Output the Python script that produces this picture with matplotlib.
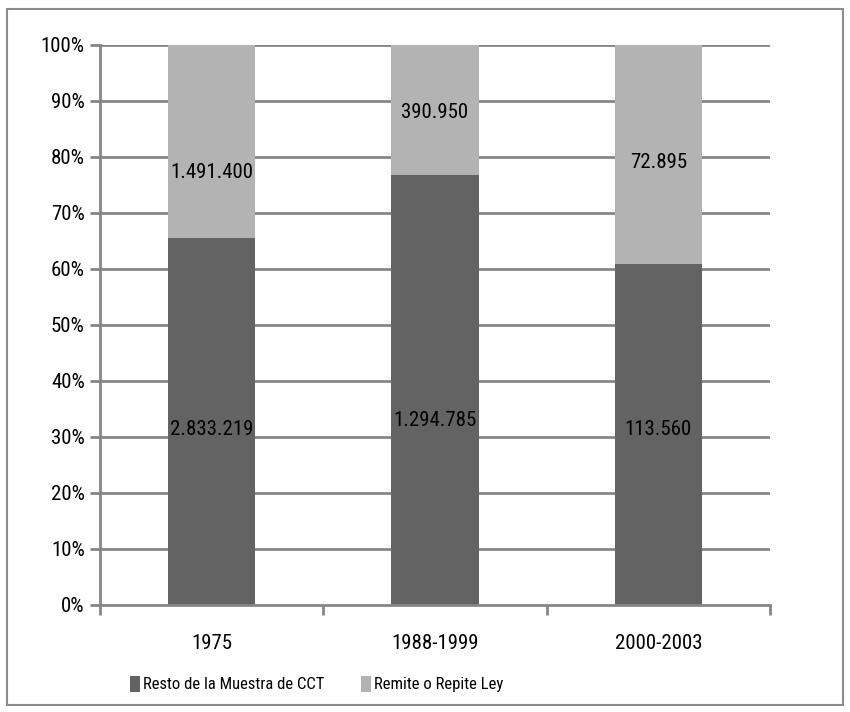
import matplotlib.pyplot as plt
from matplotlib.patches import Rectangle
from matplotlib import font_manager

categories = ['1975', '1988-1999', '2000-2003']
resto = [2833219, 1294785, 113560]
remite = [1491400, 390950, 72895]
series_names = ['Resto de la Muestra de CCT', 'Remite o Repite Ley']

# label heights as placed in the original (percent of axis)
resto_label_y = [31.3, 33.0, 31.3]
remite_label_y = [77.3, 88.0, 79.1]

names = {f.name for f in font_manager.fontManager.ttflist}
cands = ['Liberation Sans Narrow', 'Roboto Condensed', 'DejaVu Sans Condensed',
         'Open Sans Condensed', 'Noto Sans Condensed']
narrow = [f for f in cands if f in names]
if narrow:
    plt.rcParams['font.family'] = [narrow[0], 'DejaVu Sans']
else:
    plt.rcParams['font.family'] = ['DejaVu Sans']
    plt.rcParams['font.stretch'] = 'condensed'
fs = 15
fs_leg = 12

def fmt(v):
    return f'{v:,}'.replace(',', '.')

tot = [a + b for a, b in zip(resto, remite)]
p_resto = [a / t * 100 for a, t in zip(resto, tot)]
p_remite = [b / t * 100 for b, t in zip(remite, tot)]

fig = plt.figure(figsize=(8.5, 7.12), dpi=100)
fig.patches.append(Rectangle((7 / 850, 7 / 712), 836 / 850, 696 / 712, transform=fig.transFigure,
                             fill=False, edgecolor='#8c8c8c', linewidth=1.5))
ax = fig.add_axes([100 / 850, 107 / 712, 670 / 850, 560 / 712])

x = range(len(categories))
grid_c = '#868686'
ax.set_ylim(0, 100)
ax.set_xlim(-0.5, 2.5)
ax.set_yticks(range(0, 101, 10))
ax.set_yticklabels([f'{v}%' for v in range(0, 101, 10)], fontsize=fs)
for v in range(10, 101, 10):
    ax.axhline(v, color=grid_c, linewidth=2, zorder=0)

ax.bar(x, p_resto, width=0.39, color='#636363', label=series_names[0], zorder=2)
ax.bar(x, p_remite, width=0.39, bottom=p_resto, color='#b3b3b3', label=series_names[1], zorder=2)

for i in x:
    ax.text(i, resto_label_y[i], fmt(resto[i]), ha='center', va='center', fontsize=fs, zorder=3)
    ax.text(i, remite_label_y[i], fmt(remite[i]), ha='center', va='center', fontsize=fs, zorder=3)

for s in ['top', 'right']:
    ax.spines[s].set_visible(False)
for s in ['left', 'bottom']:
    ax.spines[s].set_color(grid_c)
    ax.spines[s].set_linewidth(2)

ax.set_xticks([-0.5, 0.5, 1.5, 2.5])
ax.set_xticklabels([])
ax.set_xticks(list(x), minor=True)
ax.set_xticklabels(categories, minor=True, fontsize=fs)
ax.tick_params(axis='x', which='minor', length=0, pad=21)
ax.tick_params(axis='x', which='major', length=7, width=2, color=grid_c)
ax.tick_params(axis='y', length=7, width=2, color=grid_c, pad=4)

fig.legend(loc='center left', bbox_to_anchor=(130 / 850, 28 / 712), ncol=2, frameon=False,
           fontsize=fs_leg, handlelength=0.6, handleheight=1.1, handletextpad=0.2,
           columnspacing=2.15, borderpad=0, borderaxespad=0)

plt.savefig('out.png', dpi=100)
